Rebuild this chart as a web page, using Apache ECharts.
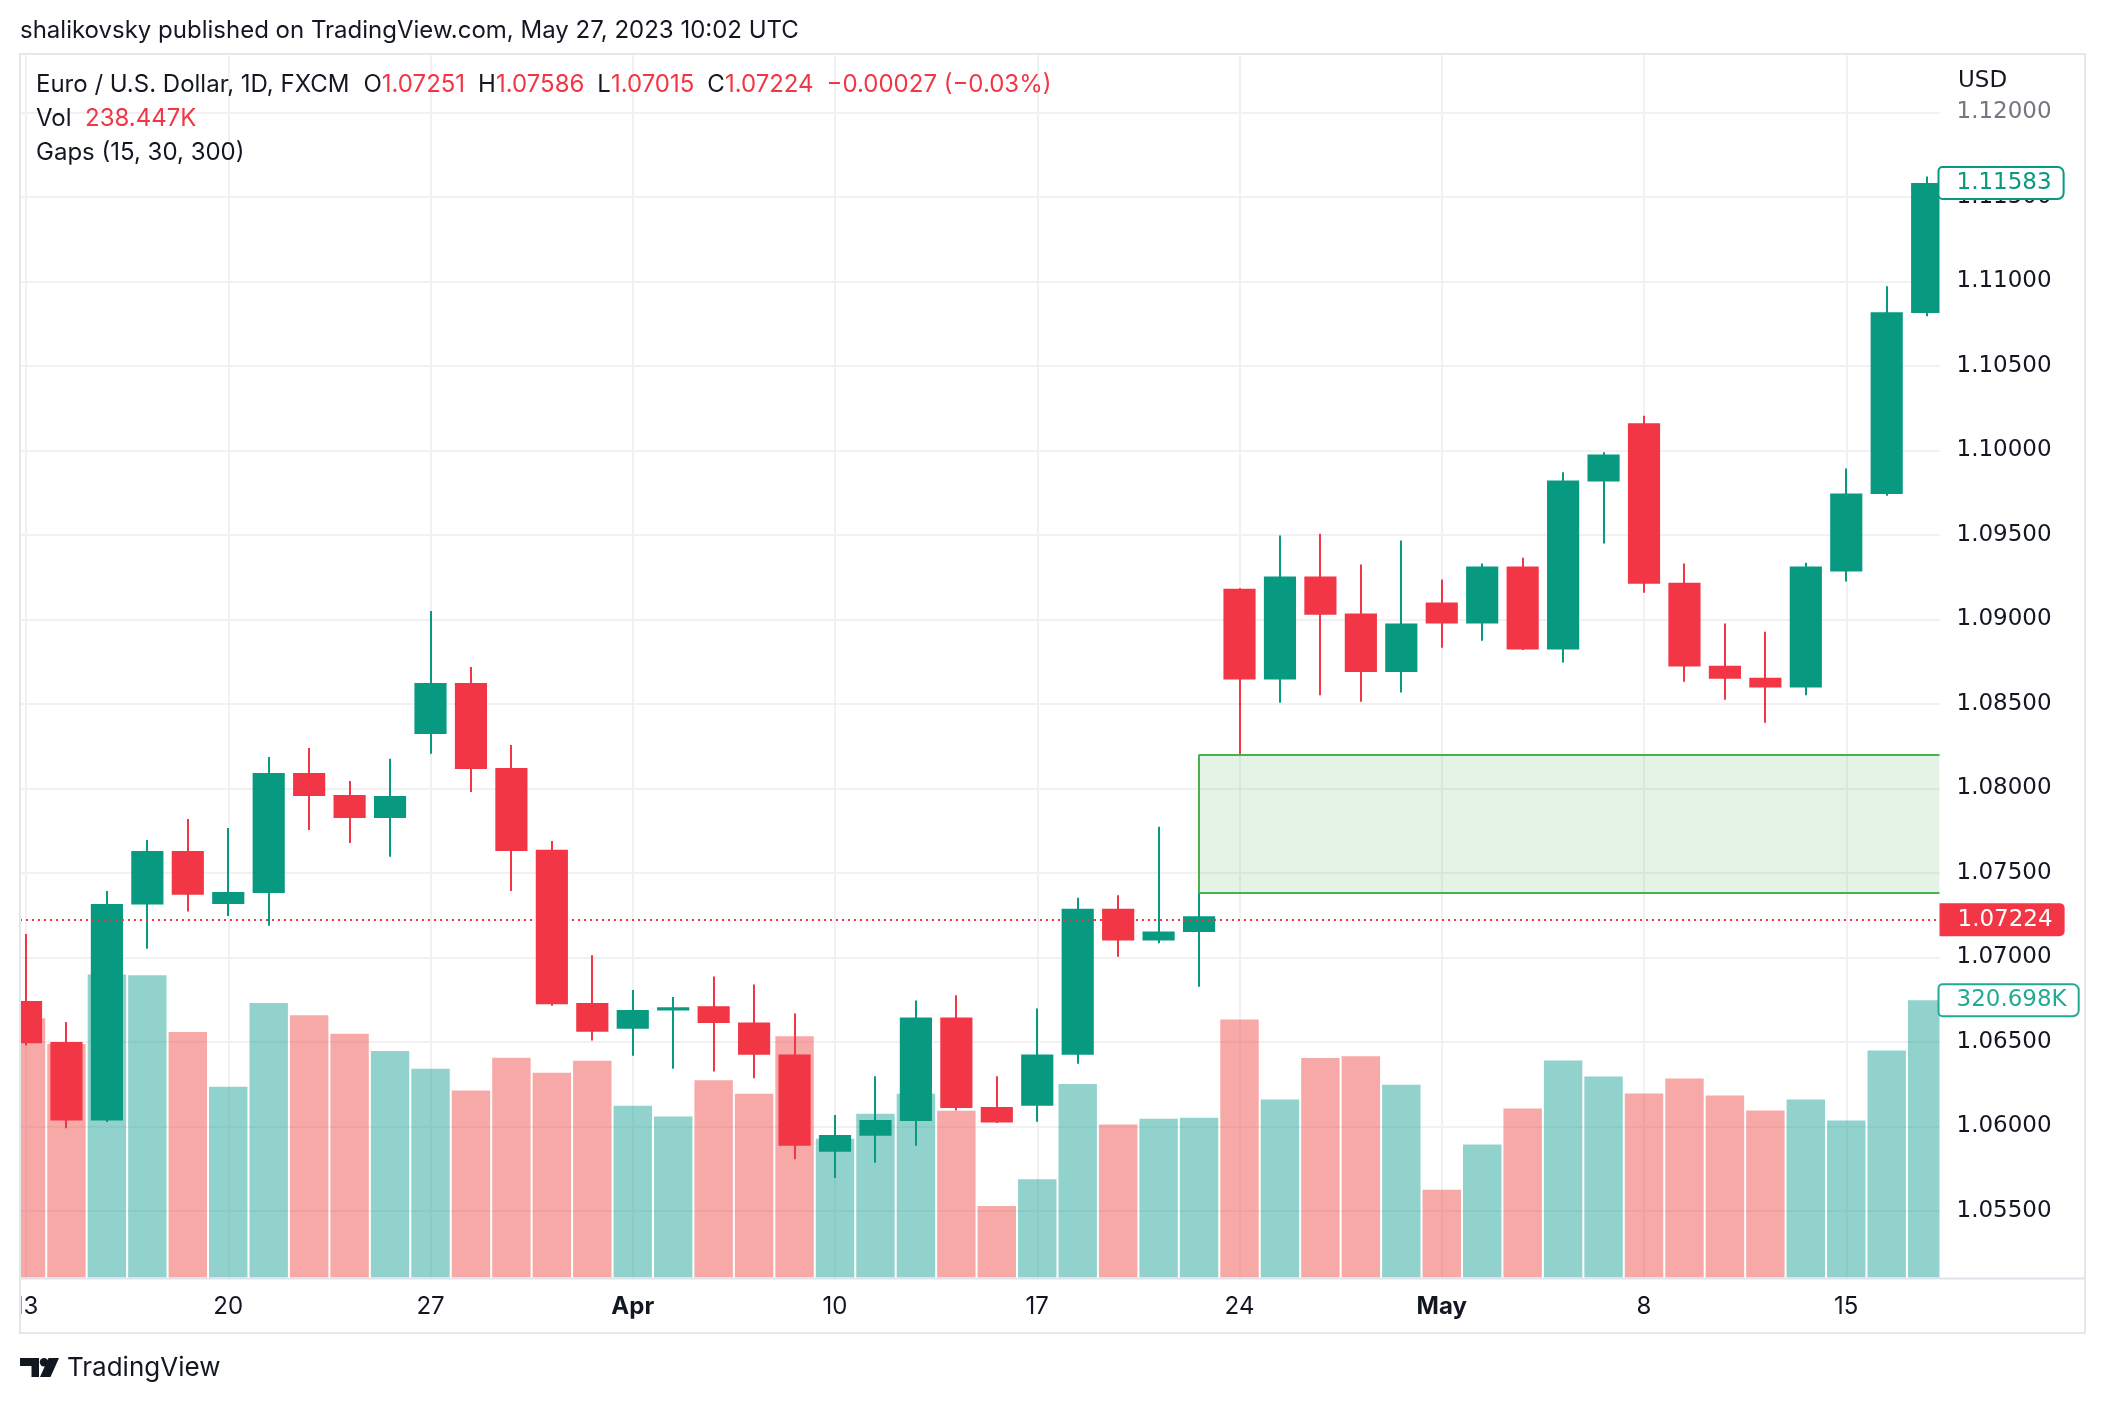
<!DOCTYPE html>
<html>
<head>
<meta charset="utf-8">
<script src="https://cdn.jsdelivr.net/npm/echarts@6/dist/echarts.min.js"></script>
<style>
html,body{margin:0;padding:0;background:#fff;}
#c{width:2106px;height:1404px;}
</style>
</head>
<body>
<div id="c"></div>
<script>
// ---------- DATA ----------
const dates = ['03-13','03-14','03-15','03-16','03-17','03-20','03-21','03-22','03-23','03-24',
  '03-27','03-28','03-29','03-30','03-31','04-03','04-04','04-05','04-06','04-07',
  '04-10','04-11','04-12','04-13','04-14','04-17','04-18','04-19','04-20','04-21',
  '04-24','04-25','04-26','04-27','04-28','05-01','05-02','05-03','05-04','05-05',
  '05-08','05-09','05-10','05-11','05-12','05-15','05-16','05-17'];
const open  = [1.06742,1.06500,1.06036,1.07313,1.07630,1.07317,1.07381,1.08092,1.07961,1.07825,
  1.08323,1.08624,1.08121,1.07637,1.06731,1.06579,1.06686,1.06711,1.06616,1.06426,
  1.05851,1.05946,1.06033,1.06645,1.06115,1.06123,1.06424,1.07289,1.07101,1.07151,
  1.09182,1.08645,1.09255,1.09035,1.08690,1.09100,1.08976,1.09313,1.08822,1.09816,
  1.10161,1.09218,1.08727,1.08656,1.08597,1.09284,1.09742,1.10813];
const high  = [1.07139,1.06618,1.07394,1.07696,1.07820,1.07766,1.08187,1.08239,1.08044,1.08176,
  1.09050,1.08719,1.08257,1.07689,1.07014,1.06808,1.06767,1.06888,1.06840,1.06669,
  1.06068,1.06297,1.06745,1.06777,1.06297,1.06698,1.07354,1.07368,1.07774,1.07386,
  1.09185,1.09497,1.09508,1.09325,1.09468,1.09236,1.09332,1.09366,1.09871,1.09989,
  1.10206,1.09332,1.08976,1.08928,1.09336,1.09894,1.10972,1.11622];
const low   = [1.06480,1.05990,1.06027,1.07052,1.07272,1.07245,1.07188,1.07755,1.07678,1.07596,
  1.08205,1.07979,1.07394,1.06715,1.06509,1.06418,1.06341,1.06326,1.06286,1.05806,
  1.05696,1.05785,1.05886,1.06094,1.06020,1.06028,1.06371,1.07004,1.07085,1.06827,
  1.08201,1.08507,1.08552,1.08514,1.08568,1.08833,1.08874,1.08820,1.08745,1.09449,
  1.09159,1.08632,1.08525,1.08389,1.08552,1.09225,1.09733,1.10795];
const close = [1.06493,1.06036,1.07317,1.07630,1.07372,1.07388,1.08092,1.07956,1.07825,1.07956,
  1.08624,1.08115,1.07630,1.06724,1.06561,1.06690,1.06706,1.06613,1.06424,1.05886,
  1.05949,1.06038,1.06645,1.06110,1.06023,1.06426,1.07289,1.07101,1.07154,1.07244,
  1.08645,1.09255,1.09028,1.08690,1.08976,1.08976,1.09313,1.08822,1.09823,1.09977,
  1.09212,1.08722,1.08650,1.08597,1.09313,1.09746,1.10818,1.11583];
const volumeK = [300.0,270.0,350.5,349.6,284.0,220.7,317.5,303.4,281.9,262.1,
  241.4,216.3,254.2,236.9,250.6,198.7,186.3,228.3,212.4,279.0,
  160.6,189.3,212.4,192.9,82.8,113.5,223.7,177.0,183.7,184.7,
  298.4,205.8,253.9,255.9,223.0,101.6,153.8,195.5,251.1,232.6,
  212.9,230.3,210.6,193.2,205.9,181.6,262.7,320.698];

const priceTicks = [1.055,1.060,1.065,1.070,1.075,1.080,1.085,1.090,1.095,1.100,1.105,1.110,1.115,1.120];
const timeTickIndex  = [0,5,10,15,20,25,30,35,40,45];
const timeTickLabels = ['13','20','27','Apr','10','17','24','May','8','15'];

const lastPrice = 1.07224;        // dotted red price line
const lastCloseLabel = 1.11583;   // green price label
const lastVolumeLabel = 320.698;  // volume label (K)
const gapStartIndex = 29;
const gapTop = 1.08201;
const gapBottom = 1.07386;

const headerTitle = 'shalikovsky published on TradingView.com, May 27, 2023 10:02 UTC';
const legendSymbol = 'Euro / U.S. Dollar, 1D, FXCM';
const legendOHLC = [['O','1.07251'],['H','1.07586'],['L','1.07015'],['C','1.07224']];
const legendChange = '\u22120.00027 (\u22120.03%)';
const legendVol = '238.447K';
const legendGaps = 'Gaps (15, 30, 300)';

// ---------- CHART ----------
const UP = '#089981', DOWN = '#F23645';
const UP_VOL = 'rgba(38,166,154,0.5)', DOWN_VOL = 'rgba(239,83,80,0.5)';
const FONT = 'Inter, Roboto, sans-serif';
const NUMFONT = '"DejaVu Sans", Inter, sans-serif';
const TXT = '#131722';
const X_MIN = -0.1483, X_MAX = 47.305;

const candleData = open.map((o, i) => [i, o, close[i], low[i], high[i]]);
const volData = volumeK.map((v, i) => [i, v, close[i] >= open[i] ? 1 : 0]);

function clipRect(r, cs) {
  return echarts.graphic.clipRectByRect(r, {x: cs.x, y: cs.y, width: cs.width, height: cs.height});
}

function renderCandle(params, api) {
  const i = api.value(0), o = api.value(1), c = api.value(2), l = api.value(3), h = api.value(4);
  const pO = api.coord([i, o]), pC = api.coord([i, c]), pL = api.coord([i, l]), pH = api.coord([i, h]);
  const w = api.size([1, 0])[0] * 0.795;
  const color = c >= o ? UP : DOWN;
  const cs = params.coordSys;
  const top = Math.min(pO[1], pC[1]);
  const bh = Math.max(Math.abs(pO[1] - pC[1]), 2);
  const children = [];
  const wick = clipRect({x: Math.round(pO[0]) - 1, y: pH[1], width: 2, height: pL[1] - pH[1]}, cs);
  if (wick) children.push({type: 'rect', shape: wick, style: {fill: color}});
  const body = clipRect({x: pO[0] - w / 2, y: top, width: w, height: bh}, cs);
  if (body) children.push({type: 'rect', shape: body, style: {fill: color}});
  return {type: 'group', children};
}

function renderVolume(params, api) {
  const i = api.value(0), v = api.value(1), up = api.value(2);
  const p = api.coord([i, v]), p0 = api.coord([i, 0]);
  const w = api.size([1, 0])[0] * 0.95;
  const r = clipRect({x: p[0] - w / 2, y: p[1], width: w, height: p0[1] - p[1]}, params.coordSys);
  if (!r) return null;
  return {type: 'rect', shape: r, style: {fill: up ? UP_VOL : DOWN_VOL}};
}

const chart = echarts.init(document.getElementById('c'), null, {renderer: 'canvas'});

const FS = 24;
const legendRich = {
  n: {color: TXT, fontSize: FS, fontFamily: FONT, fontWeight: 'normal', padding: [0, 14, 0, 0]},
  k: {color: TXT, fontSize: FS, fontFamily: FONT, fontWeight: 'normal'},
  v: {color: DOWN, fontSize: FS, fontFamily: FONT, fontWeight: 'normal', padding: [0, 13, 0, 0]},
  c: {color: DOWN, fontSize: FS, fontFamily: FONT, fontWeight: 'normal'}
};
let legendText = '{n|' + legendSymbol + '}';
legendOHLC.forEach(p => { legendText += '{k|' + p[0] + '}{v|' + p[1] + '}'; });
legendText += '{c|' + legendChange + '}';

const boxLabel = (txt, fg, bg, border) => ({
  show: true, position: 'end', distance: 0, formatter: txt,
  color: fg, backgroundColor: bg, borderColor: border, borderWidth: border ? 2 : 0,
  fontFamily: NUMFONT, fontSize: 23, lineHeight: 27,
  padding: border ? [2, 11, 1, 17] : [3, 12, 3, 18],
  borderRadius: border ? [3, 5, 5, 3] : [0, 5, 5, 0]
});

const option = {
  backgroundColor: '#fff',
  animation: false,
  title: [
    {text: headerTitle, left: 20, top: 17, padding: 0,
     textStyle: {fontFamily: FONT, fontSize: FS, fontWeight: 'normal', color: TXT, lineHeight: 28}},
    {text: legendText, left: 36, top: 71, padding: 0,
     textStyle: {rich: legendRich, fontWeight: 'normal', lineHeight: 28}},
    {text: '{k|Vol  }{c|' + legendVol + '}', left: 36, top: 105, padding: 0,
     textStyle: {rich: legendRich, fontWeight: 'normal', lineHeight: 28}},
    {text: legendGaps, left: 36, top: 139, padding: 0,
     textStyle: {fontFamily: FONT, fontSize: FS, fontWeight: 'normal', color: TXT, lineHeight: 28}},
    {text: 'USD', left: 1958, top: 67, padding: 0,
     textStyle: {fontFamily: NUMFONT, fontSize: 23, fontWeight: 'normal', color: TXT, lineHeight: 28}}
  ],
  grid: {left: 20, top: 54, width: 1919.5, height: 1223.5, containLabel: false},
  xAxis: {
    type: 'value', min: X_MIN, max: X_MAX,
    axisLine: {show: false}, axisTick: {show: false, customValues: timeTickIndex},
    splitLine: {show: true, lineStyle: {color: '#f1f1f4', width: 2}},
    axisLabel: {
      customValues: timeTickIndex, margin: 17,
      color: TXT, fontSize: FS, fontFamily: FONT,
      formatter: v => {
        const s = timeTickLabels[timeTickIndex.indexOf(v)];
        return (s === 'Apr' || s === 'May') ? '{b|' + s + '}' : s;
      },
      rich: {b: {fontWeight: 'bold', fontSize: FS, fontFamily: FONT, color: TXT}}
    }
  },
  yAxis: [
    {
      type: 'value', position: 'right', min: 1.051065, max: 1.123462, scale: true,
      axisLine: {show: false}, axisTick: {show: false, customValues: priceTicks},
      splitLine: {show: true, lineStyle: {color: '#f1f1f4', width: 2}},
      axisLabel: {
        customValues: priceTicks, margin: 17, color: TXT, fontSize: 23, fontFamily: NUMFONT,
        formatter: v => v >= 1.1199 ? '{f|' + v.toFixed(5) + '}' : v.toFixed(5),
        rich: {f: {color: '#74777f', fontSize: 23, fontFamily: NUMFONT}}
      }
    },
    {
      type: 'value', min: 0, max: 1415.2, show: false,
      splitLine: {show: false}
    }
  ],
  series: [
    {
      type: 'custom', name: 'Volume', xAxisIndex: 0, yAxisIndex: 1, z: 1,
      renderItem: renderVolume, data: volData, encode: {x: 0, y: 1}
    },
    {
      type: 'custom', name: 'Gap', xAxisIndex: 0, yAxisIndex: 0, z: 2, data: [],
      renderItem: () => null,
      markArea: {
        silent: true,
        itemStyle: {color: 'rgba(76,175,80,0.15)', borderWidth: 0},
        data: [[{xAxis: gapStartIndex, yAxis: gapTop}, {xAxis: X_MAX, yAxis: gapBottom}]]
      },
      markLine: {
        silent: true, symbol: 'none', label: {show: false}, precision: 6,
        lineStyle: {color: '#4caf50', width: 2, type: 'solid'},
        data: [
          [{coord: [gapStartIndex, gapTop]}, {coord: [X_MAX, gapTop]}],
          [{coord: [gapStartIndex, gapBottom]}, {coord: [X_MAX, gapBottom]}],
          [{coord: [gapStartIndex, gapTop]}, {coord: [gapStartIndex, gapBottom]}]
        ]
      }
    },
    {
      type: 'custom', name: 'EURUSD', xAxisIndex: 0, yAxisIndex: 0, z: 3,
      renderItem: renderCandle, data: candleData, encode: {x: 0, y: [1, 2, 3, 4]}
    },
    {
      type: 'custom', name: 'PriceLines', xAxisIndex: 0, yAxisIndex: 0, z: 5, data: [],
      renderItem: () => null,
      markLine: {
        silent: true, symbol: 'none', precision: 6,
        data: [
          {yAxis: lastPrice,
           lineStyle: {color: DOWN, width: 2, type: [2, 4]},
           label: boxLabel(lastPrice.toFixed(5), '#fff', DOWN, null)},
          {yAxis: lastCloseLabel,
           lineStyle: {color: 'rgba(0,0,0,0)', width: 0},
           label: boxLabel(lastCloseLabel.toFixed(5), UP, '#fff', UP)}
        ]
      }
    },
    {
      type: 'custom', name: 'VolLine', xAxisIndex: 0, yAxisIndex: 1, z: 5, data: [],
      renderItem: () => null,
      markLine: {
        silent: true, symbol: 'none', precision: 6,
        data: [
          {yAxis: lastVolumeLabel,
           lineStyle: {color: 'rgba(0,0,0,0)', width: 0},
           label: boxLabel(lastVolumeLabel.toFixed(3) + 'K', '#22ab94', '#fff', '#22ab94')}
        ]
      }
    }
  ],
  graphic: [
    {type: 'rect', z: 100, shape: {x: 0, y: 1280, width: 19, height: 52}, style: {fill: '#fff'}},
    {type: 'rect', z: 101, shape: {x: 20, y: 54, width: 2065, height: 1279},
     style: {fill: null, stroke: '#e6e7ec', lineWidth: 2}},
    {type: 'line', z: 101, shape: {x1: 20, y1: 1278.5, x2: 2085, y2: 1278.5},
     style: {stroke: '#e0e3eb', lineWidth: 2}},
    // TradingView logo
    {type: 'rect', z: 101, shape: {x: 20, y: 1358, width: 19, height: 8}, style: {fill: TXT}},
    {type: 'rect', z: 101, shape: {x: 31.5, y: 1358, width: 7.5, height: 19}, style: {fill: TXT}},
    {type: 'circle', z: 101, shape: {cx: 44, cy: 1362.2, r: 4.2}, style: {fill: TXT}},
    {type: 'polygon', z: 101, shape: {points: [[48.5, 1358], [59, 1358], [50.5, 1377], [40, 1377]]}, style: {fill: TXT}},
    {type: 'text', z: 101, style: {x: 67, y: 1368, text: 'TradingView', fill: TXT,
      font: '26px Inter, Roboto, sans-serif', verticalAlign: 'middle'}}
  ]
};

chart.setOption(option);
</script>
</body>
</html>
